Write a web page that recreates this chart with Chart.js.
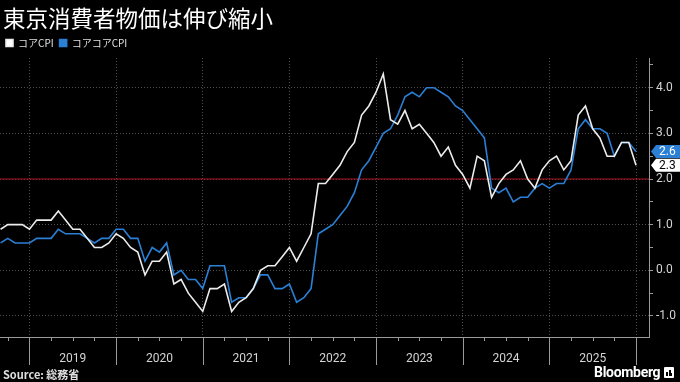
<!DOCTYPE html>
<html><head><meta charset="utf-8">
<script src="https://cdn.jsdelivr.net/npm/chart.js@4/dist/chart.umd.min.js"></script>
<style>
html,body{margin:0;padding:0;background:#000;width:680px;height:382px;overflow:hidden}
#wrap{position:relative;width:680px;height:382px}
#c{position:absolute;left:0;top:0}
#title{position:absolute;left:3px;top:2px;color:#fff;font:22.5px "Noto Sans CJK JP";line-height:30px;white-space:nowrap}
#source{position:absolute;left:3px;top:367px;color:#e0e0e0;font:bold 11px "Noto Sans CJK JP";line-height:14px;white-space:nowrap}
#brand{position:absolute;left:594px;top:364px;color:#fff;font:bold 14px Roboto;line-height:17px;white-space:nowrap;letter-spacing:-0.3px}
#ico{display:inline-block;width:10px;height:11px;background:#fff;border-radius:1px;vertical-align:-1px;margin-left:4px;position:relative}
#ico i{position:absolute;bottom:2px;width:2px;background:#000}
</style></head>
<body><div id="wrap">
<canvas id="c" width="680" height="382"></canvas>
<div id="title">東京消費者物価は伸び縮小</div>
<div id="source">Source: 総務省</div>
<div id="brand">Bloomberg<span id="ico"><i style="left:2px;height:4px"></i><i style="left:5px;height:6px"></i><i style="left:7px;height:3px;width:1px"></i></span></div>
</div>
<script>
// ---- data ----
const MONTHS = [
 '2018-08','2018-09','2018-10','2018-11','2018-12',
 '2019-01','2019-02','2019-03','2019-04','2019-05','2019-06','2019-07','2019-08','2019-09','2019-10','2019-11','2019-12',
 '2020-01','2020-02','2020-03','2020-04','2020-05','2020-06','2020-07','2020-08','2020-09','2020-10','2020-11','2020-12',
 '2021-01','2021-02','2021-03','2021-04','2021-05','2021-06','2021-07','2021-08','2021-09','2021-10','2021-11','2021-12',
 '2022-01','2022-02','2022-03','2022-04','2022-05','2022-06','2022-07','2022-08','2022-09','2022-10','2022-11','2022-12',
 '2023-01','2023-02','2023-03','2023-04','2023-05','2023-06','2023-07','2023-08','2023-09','2023-10','2023-11','2023-12',
 '2024-01','2024-02','2024-03','2024-04','2024-05','2024-06','2024-07','2024-08','2024-09','2024-10','2024-11','2024-12',
 '2025-01','2025-02','2025-03','2025-04','2025-05','2025-06','2025-07','2025-08','2025-09','2025-10','2025-11','2025-12'
];
const CORE_CPI = [
 0.9,1.0,1.0,1.0,0.9,
 1.1,1.1,1.1,1.3,1.1,0.9,0.9,0.7,0.5,0.5,0.6,0.8,
 0.7,0.5,0.4,-0.1,0.2,0.2,0.4,-0.3,-0.2,-0.5,-0.7,-0.9,
 -0.4,-0.4,-0.3,-0.9,-0.7,-0.6,-0.4,0.0,0.1,0.1,0.3,0.5,
 0.2,0.5,0.8,1.9,1.9,2.1,2.3,2.6,2.8,3.4,3.6,3.9,
 4.3,3.3,3.2,3.5,3.1,3.2,3.0,2.8,2.5,2.7,2.3,2.1,
 1.8,2.5,2.4,1.6,1.9,2.1,2.2,2.4,2.0,1.8,2.2,2.4,
 2.5,2.2,2.4,3.4,3.6,3.1,2.9,2.5,2.5,2.8,2.8,2.3
];
const CORE_CORE_CPI = [
 0.6,0.7,0.6,0.6,0.6,
 0.7,0.7,0.7,0.9,0.8,0.8,0.8,0.7,0.6,0.7,0.7,0.9,
 0.9,0.7,0.7,0.2,0.5,0.4,0.6,-0.1,0.0,-0.2,-0.2,-0.4,
 0.1,0.1,0.1,-0.7,-0.6,-0.6,-0.4,-0.1,-0.1,-0.4,-0.4,-0.3,
 -0.7,-0.6,-0.4,0.8,0.9,1.0,1.2,1.4,1.7,2.2,2.4,2.7,
 3.0,3.1,3.4,3.8,3.9,3.8,4.0,4.0,3.9,3.8,3.6,3.5,
 3.3,3.1,2.9,1.8,1.7,1.8,1.5,1.6,1.6,1.8,1.9,1.8,
 1.9,1.9,2.2,3.1,3.3,3.1,3.1,3.0,2.5,2.8,2.8,2.6
];
const SERIES_NAMES = ['コアCPI', 'コアコアCPI'];
const YEAR_LABELS = ['2019','2020','2021','2022','2023','2024','2025'];
const Y_TICKS = [-1,-0.5,0,0.5,1,1.5,2,2.5,3,3.5,4,4.5];
const TARGET = 2.0;

// ---- helpers (positions derived from the month categories) ----
const idxOf = m => MONTHS.indexOf(m);
const yearStartIdx = y => idxOf((+y - 1) + '-12');           // end of December = start of year
const yearEndIdx = y => idxOf(y + '-12');
const DIVIDERS = [yearStartIdx(YEAR_LABELS[0])].concat(YEAR_LABELS.map(yearEndIdx));
const CENTERS = YEAR_LABELS.map(y => (yearStartIdx(y) + yearEndIdx(y)) / 2);
const QUARTERS = [];
for (let d = DIVIDERS[0] - 3; d <= DIVIDERS[DIVIDERS.length - 1]; d += 3) QUARTERS.push(d);
const X_MIN = -0.08, X_MAX = MONTHS.length - 1 + 1.8;

const WHITE = '#ececec', BLUE = '#2b80d6', RED = '#a8141c';
const toXY = arr => arr.map((v, i) => ({x: i, y: v}));

const overlay = {
  id: 'overlay',
  afterDraw(chart) {
    const ctx = chart.ctx, xs = chart.scales.x, ys = chart.scales.y;
    const axisY = chart.chartArea.bottom;
    ctx.save();
    ctx.strokeStyle = '#9a9a9a';
    ctx.lineWidth = 1;
    // year dividers below axis
    DIVIDERS.forEach(d => {
      const px = Math.round(xs.getPixelForValue(d)) + 0.5;
      ctx.beginPath(); ctx.moveTo(px, axisY); ctx.lineTo(px, axisY + 28); ctx.stroke();
    });
    // quarter ticks
    QUARTERS.forEach(q => {
      const px = Math.round(xs.getPixelForValue(q)) + 0.5;
      ctx.beginPath(); ctx.moveTo(px, axisY); ctx.lineTo(px, axisY + 4); ctx.stroke();
    });
    // last-value labels
    const tags = [
      {v: CORE_CORE_CPI[CORE_CORE_CPI.length - 1], bg: BLUE, fg: '#fff'},
      {v: CORE_CPI[CORE_CPI.length - 1], bg: '#fff', fg: '#000'}
    ];
    tags.forEach(t => {
      const cy = ys.getPixelForValue(t.v);
      const x0 = chart.chartArea.right + 2, x1 = x0 + 5, x2 = 680, h = 13;
      ctx.fillStyle = t.bg;
      ctx.beginPath();
      ctx.moveTo(x0, cy); ctx.lineTo(x1, cy - h / 2); ctx.lineTo(x2, cy - h / 2);
      ctx.lineTo(x2, cy + h / 2); ctx.lineTo(x1, cy + h / 2); ctx.closePath(); ctx.fill();
      ctx.fillStyle = t.fg;
      ctx.font = '12px Roboto';
      ctx.textBaseline = 'middle';
      ctx.fillText(t.v.toFixed(1), x1 + 3, cy + 0.5);
    });
    ctx.restore();
  }
};

new Chart(document.getElementById('c'), {
  type: 'line',
  data: {
    datasets: [
      {label: SERIES_NAMES[0], data: toXY(CORE_CPI), borderColor: WHITE, backgroundColor: '#fff',
       borderWidth: 1.6, pointRadius: 0, tension: 0, order: 1},
      {label: SERIES_NAMES[1], data: toXY(CORE_CORE_CPI), borderColor: BLUE, backgroundColor: BLUE,
       borderWidth: 1.6, pointRadius: 0, tension: 0, order: 2},
      {label: 'target', data: [{x: X_MIN, y: TARGET}, {x: X_MAX, y: TARGET}], borderColor: RED,
       borderWidth: 1, pointRadius: 0, order: 3}
    ]
  },
  options: {
    responsive: false,
    animation: false,
    events: [],
    layout: {padding: {left: 0, right: 0, top: 32, bottom: 0}},
    plugins: {
      tooltip: {enabled: false},
      legend: {
        position: 'top', align: 'start',
        labels: {
          filter: it => it.text !== 'target',
          color: '#e0e0e0', font: {size: 10, family: '"Noto Sans CJK JP"'},
          boxWidth: 7, boxHeight: 7, padding: 6
        }
      }
    },
    scales: {
      x: {
        type: 'linear', min: X_MIN, max: X_MAX, position: 'bottom',
        afterBuildTicks: s => { s.ticks = DIVIDERS.concat(CENTERS).sort((a, b) => a - b).map(v => ({value: v})); },
        afterFit: s => { s.height = 45; },
        ticks: {
          autoSkip: false, maxRotation: 0, padding: 15, color: '#d4d4d4',
          font: {size: 12, family: 'Roboto'},
          callback: v => { const k = CENTERS.indexOf(v); return k >= 0 ? YEAR_LABELS[k] : ''; }
        },
        grid: {
          drawTicks: false,
          color: c => (c.tick && DIVIDERS.includes(c.tick.value)) ? '#505050' : 'rgba(0,0,0,0)',
          lineWidth: 1
        },
        border: {display: true, color: '#9a9a9a', width: 1, dash: [1, 2]}
      },
      y: {
        position: 'right', min: -1.46, max: 4.65,
        afterBuildTicks: s => { s.ticks = Y_TICKS.map(v => ({value: v})); },
        afterFit: s => { s.width = 31; },
        ticks: {
          padding: 3, color: '#d4d4d4', font: {size: 12, family: 'Roboto'},
          callback: v => Number.isInteger(v) ? v.toFixed(1) : ''
        },
        grid: {
          drawTicks: true, tickLength: 4, tickColor: '#9a9a9a',
          color: c => (c.tick && Number.isInteger(c.tick.value)) ? '#505050' : 'rgba(0,0,0,0)',
          lineWidth: 1
        },
        border: {display: true, color: '#9a9a9a', width: 1, dash: [1, 2]}
      }
    }
  },
  plugins: [overlay]
});
</script>
</body></html>
